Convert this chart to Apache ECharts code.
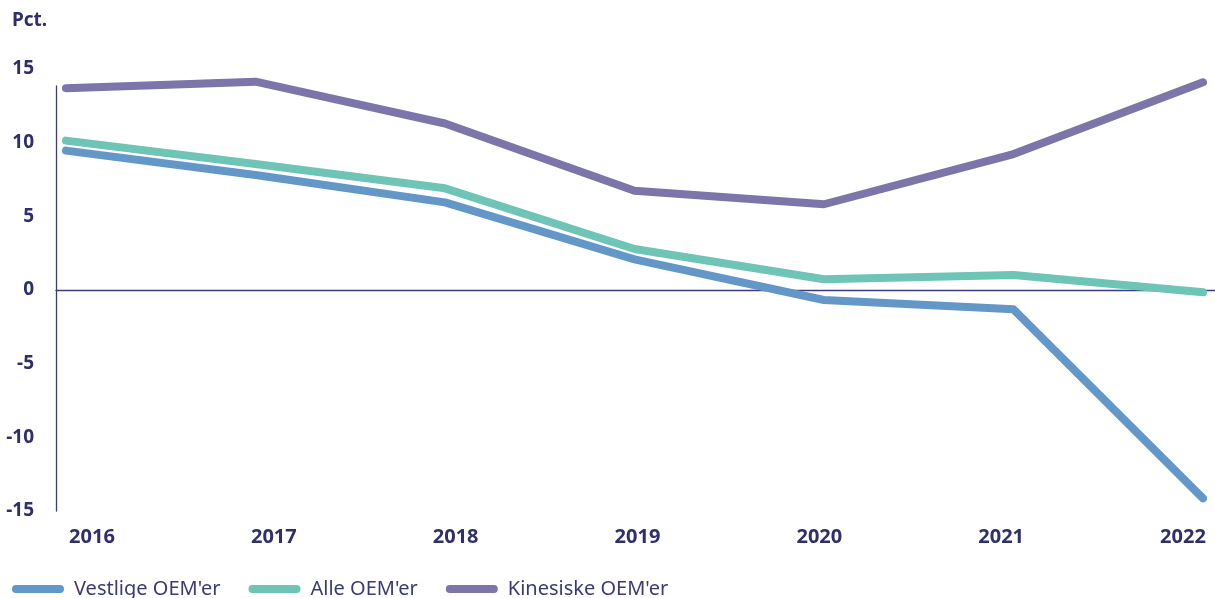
<!DOCTYPE html>
<html>
<head>
<meta charset="utf-8">
<script src="https://cdn.jsdelivr.net/npm/echarts@6/dist/echarts.min.js"></script>
<style>
html,body{margin:0;padding:0;background:#fff;}
#chart{width:1215px;height:598px;}
</style>
</head>
<body>
<div id="chart"></div>
<script>
const years = ['2016','2017','2018','2019','2020','2021','2022'];
const vestlige = [9.46, 7.8, 5.95, 2.08, -0.68, -1.31, -14.14];
const alle = [10.14, 8.55, 6.9, 2.78, 0.73, 1.02, -0.16];
const kinesiske = [13.7, 14.14, 11.3, 6.74, 5.82, 9.23, 14.1];
const seriesNames = ["Vestlige OEM'er", "Alle OEM'er", "Kinesiske OEM'er"];
const yTicks = [-15, -10, -5, 0, 5, 10, 15];

const navy = '#2f2f6c';
const axisColor = '#3d3b80';
const colors = ['#6297c7', '#6ec4b5', '#7b75a9'];
const font = '"Noto Sans", sans-serif';

const chart = echarts.init(document.getElementById('chart'));
const yMin = yTicks[0], yMax = yTicks[yTicks.length - 1];

chart.setOption({
  animation: false,
  textStyle: { fontFamily: font },
  title: {
    text: 'Pct.', left: 7, top: 6,
    textStyle: { fontFamily: font, fontWeight: 'bold', fontSize: 19, color: navy }
  },
  legend: {
    left: 7, top: 574, itemGap: 28, itemWidth: 52, itemHeight: 8,
    icon: 'path://M4,0 H48 A4,4 0 0 1 48,8 H4 A4,4 0 0 1 4,0 Z',
    data: seriesNames,
    textStyle: { fontFamily: font, fontSize: 20, color: '#3a3a7a', padding: [0, 0, 0, 5] }
  },
  grid: [
    { left: 66, right: 12, top: 69, bottom: 87 },   // data
    { left: 56, right: 0, top: 69, bottom: 87 },    // zero line
    { left: 56, right: 0, top: 86, bottom: 87 },    // vertical axis line
    { left: 92, right: 32, top: 69, bottom: 87 }    // x labels
  ],
  xAxis: [
    { gridIndex: 0, type: 'category', data: years, boundaryGap: false, show: false },
    { gridIndex: 1, type: 'category', data: years, boundaryGap: false,
      axisLine: { show: true, onZero: true, lineStyle: { color: axisColor, width: 1.3 } },
      axisTick: { show: false }, axisLabel: { show: false } },
    { gridIndex: 2, type: 'category', data: years, show: false },
    { gridIndex: 3, type: 'category', data: years, boundaryGap: false,
      axisLine: { show: false }, axisTick: { show: false },
      axisLabel: { margin: 16, fontFamily: font, fontWeight: 'bold', fontSize: 20, color: navy } }
  ],
  yAxis: [
    { gridIndex: 0, type: 'value', min: yMin, max: yMax, interval: 5,
      axisLine: { show: false }, axisTick: { show: false }, splitLine: { show: false },
      axisLabel: { margin: 32, padding: [4, 0, 0, 0], fontFamily: font, fontWeight: 'bold', fontSize: 19, color: navy } },
    { gridIndex: 1, type: 'value', min: yMin, max: yMax, show: false },
    { gridIndex: 2, type: 'value', min: 0, max: 1,
      axisLine: { show: true, lineStyle: { color: axisColor, width: 1.3 } },
      axisTick: { show: false }, axisLabel: { show: false }, splitLine: { show: false } },
    { gridIndex: 3, type: 'value', min: yMin, max: yMax, show: false }
  ],
  series: [
    { name: seriesNames[0], data: vestlige },
    { name: seriesNames[1], data: alle },
    { name: seriesNames[2], data: kinesiske }
  ].map((s, i) => ({
    ...s, type: 'line', xAxisIndex: 0, yAxisIndex: 0, showSymbol: false, z: 5,
    color: colors[i],
    lineStyle: { width: 8, color: colors[i], cap: 'round', join: 'round' }
  }))
});
</script>
</body>
</html>
